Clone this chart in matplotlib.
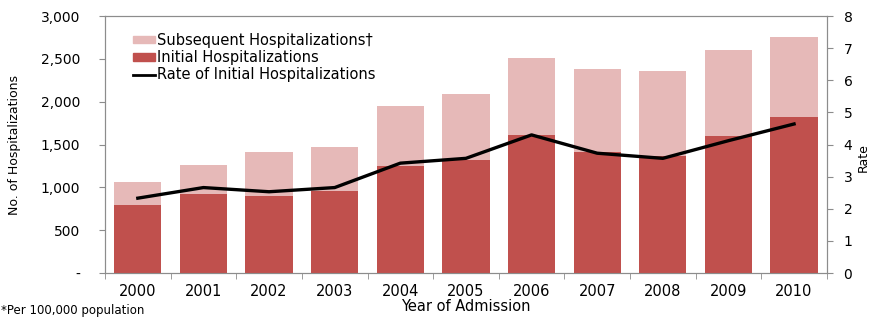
import numpy as np
import matplotlib.pyplot as plt
import matplotlib.ticker as mtick
from matplotlib.patches import Patch
from matplotlib.lines import Line2D

years = ["2000", "2001", "2002", "2003", "2004", "2005",
         "2006", "2007", "2008", "2009", "2010"]
total_hosp = [1065, 1262, 1415, 1470, 1948, 2090, 2515, 2380, 2360, 2605, 2752]
initial_hosp = [795, 922, 900, 962, 1250, 1320, 1610, 1415, 1366, 1598, 1825]
rate_initial = [2.33, 2.66, 2.53, 2.66, 3.42, 3.57, 4.30, 3.73, 3.57, 4.12, 4.64]

plt.rcParams["font.family"] = ["DejaVu Sans"]

light = "#E6B9B8"
dark = "#C0504D"
grey = "#8c8c8c"

fig = plt.figure(figsize=(8.75, 3.18), dpi=100)
ax1 = fig.add_axes([0.12, 0.1415, 0.825, 0.808])
x = np.arange(len(years))
w = 0.72
ax1.bar(x, total_hosp, width=w, color=light, zorder=2)
ax1.bar(x, initial_hosp, width=w, color=dark, zorder=3)
ax1.set_xlim(-0.5, len(years) - 0.5)
ax1.set_ylim(0, 3000)
ax1.set_yticks(np.arange(0, 3001, 500))
ax1.yaxis.set_major_formatter(
    mtick.FuncFormatter(lambda v, p: "-" if v == 0 else f"{int(v):,}"))
ax1.set_xticks(x)
ax1.set_xticklabels(years)
ax1.set_xticks(np.arange(-0.5, len(years)), minor=True)
ax1.tick_params(axis="x", which="major", length=0, labelsize=10.5, pad=8)
ax1.tick_params(axis="x", which="minor", length=4, color=grey)
ax1.tick_params(axis="y", length=4, color=grey, labelsize=10, pad=14)
ax1.set_ylabel("No. of Hospitalizations", fontsize=9, labelpad=14)
ax1.set_xlabel("Year of Admission", fontsize=10.5, labelpad=0)
for s in ax1.spines.values():
    s.set_color(grey)

ax2 = ax1.twinx()
ax2.plot(x, rate_initial, color="black", lw=2.4, zorder=5)
ax2.set_ylim(0, 8)
ax2.set_yticks(np.arange(0, 9, 1))
ax2.tick_params(axis="y", length=4, color=grey, labelsize=10, pad=8)
ax2.set_ylabel("Rate", fontsize=9)
ax2.yaxis.set_label_coords(1.041, 0.45)
for s in ax2.spines.values():
    s.set_color(grey)

handles = [Patch(color=light), Patch(color=dark),
           Line2D([], [], color="black", lw=2)]
labels = ["Subsequent Hospitalizations\u2020", "Initial Hospitalizations",
          "Rate of Initial Hospitalizations"]
ax1.legend(handles, labels, loc="upper left", bbox_to_anchor=(0.025, 0.975),
           frameon=False, fontsize=10.5, handlelength=1.5, handleheight=0.45,
           handletextpad=0.1, labelspacing=0.15, borderpad=0.2)

fig.text(0.001, 0.045, "*Per 100,000 population", fontsize=8.5, va="top")

fig.savefig("out.png", dpi=100)
